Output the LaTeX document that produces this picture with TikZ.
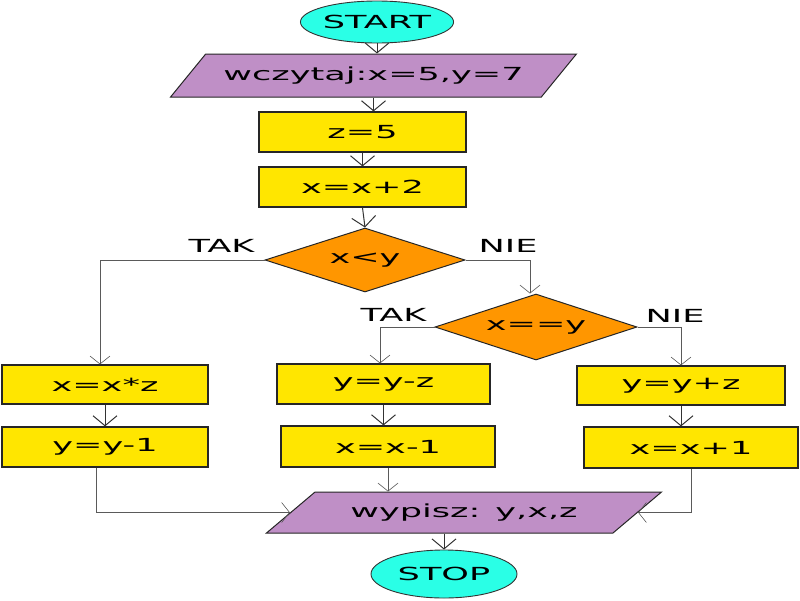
\documentclass[tikz,border=0pt]{standalone}
\usepackage{fontspec}
\setmainfont[FakeStretch=1.95]{DejaVu Sans}
\usepackage{tikz}
\usetikzlibrary{shapes.geometric, arrows.meta, positioning}
\definecolor{termcyan}{RGB}{42,255,230}
\definecolor{iopurple}{RGB}{191,143,198}
\definecolor{opyellow}{RGB}{255,230,0}
\definecolor{decorange}{RGB}{255,150,0}
\definecolor{linkgray}{RGB}{90,90,90}

\begin{document}
\begin{tikzpicture}[x=1pt, y=-1pt,
    every node/.style={font=\fontsize{18}{21}\selectfont, inner sep=0pt},
    term/.style={ellipse, draw=black!80, line width=0.9pt, fill=termcyan},
    iobox/.style={trapezium, trapezium stretches=true, draw=black!85, line width=1pt, fill=iopurple},
    opbox/.style={rectangle, draw=black!85, line width=1.2pt, fill=opyellow},
    decision/.style={diamond, aspect=3.1, draw=black!85, line width=1pt, fill=decorange},
    flow/.style={-{Straight Barb[length=10pt,width=24pt]}, line width=1pt, black!80},
    link/.style={-{Straight Barb[length=8pt,width=20pt]}, line width=0.6pt, linkgray}]
    \useasboundingbox (0,0) rectangle (800,600);

    % Start and input
    \node[term, minimum width=144pt, minimum height=42pt] (start) at (377,22) {START};
    \node[iobox, trapezium left angle=29, trapezium right angle=151,
          minimum width=407pt, minimum height=43pt] (read) at (373.5,75.5) {wczytaj:x=5,y=7};
    \node[opbox, minimum width=207pt, minimum height=40pt] (zset) at (362.5,132) {z=5};
    \node[opbox, minimum width=207pt, minimum height=40pt] (xadd) at (362.5,187) {x=x+2};

    % Decisions
    \node[decision, minimum width=200pt, minimum height=64pt] (less) at (365,260) {x<y};
    \node[decision, minimum width=202pt, minimum height=66pt] (equal) at (536,327) {x==y};
    \node[above left=7pt and 10pt of less.west] (takless) {TAK};
    \node[above right=7pt and 13pt of less.east] (nieless) {NIE};
    \node[above left=5pt and 8pt of equal.west] (takequal) {TAK};
    \node[above right=4pt and 8pt of equal.east] (nieequal) {NIE};

    % Branches
    \node[opbox, minimum width=206pt, minimum height=39pt] (xmul) at (105,384.5) {x=x*z};
    \node[opbox, minimum width=206pt, minimum height=40pt] (ydec) at (105,447) {y=y-1};
    \node[opbox, minimum width=213pt, minimum height=40pt] (ysub) at (383.5,384) {y=y-z};
    \node[opbox, minimum width=214pt, minimum height=41pt] (xdec) at (388,446.5) {x=x-1};
    \node[opbox, minimum width=208pt, minimum height=39pt] (yadd) at (681,385.5) {y=y+z};
    \node[opbox, minimum width=214pt, minimum height=41pt] (xinc) at (691,447.5) {x=x+1};

    % Output and stop
    \node[iobox, trapezium left angle=25.2, trapezium right angle=154.8,
          minimum width=396pt, minimum height=41pt] (print) at (464,512.5) {wypisz: y,x,z};
    \node[term, minimum width=146pt, minimum height=48pt] (stop) at (444,574) {STOP};

    % Connectors
    \draw[flow] (start.south) -- (start.south |- read.north);
    \draw[flow] (read.south) -- (read.south |- zset.north);
    \draw[flow] (zset) -- (xadd);
    \draw[flow] (xadd.south) -- (less.north);
    \draw[link] (less.west) -| ([xshift=-5pt]xmul.north);
    \draw[link] (less.east) -| ([xshift=-6pt]equal.north);
    \draw[link] (equal.west) -| ([xshift=-3.5pt]ysub.north);
    \draw[link] (equal.east) -| (yadd.north);
    \draw[flow] (xmul) -- (ydec);
    \draw[flow] (ysub.south) -- (ysub.south |- xdec.north);
    \draw[flow] (yadd.south) -- (yadd.south |- xinc.north);
    \draw[link] ([xshift=-9pt]ydec.south) |- (print.west);
    \draw[link] (xdec.south) -- (xdec.south |- print.north);
    \draw[link] (xinc.south) |- (print.east);
    \draw[flow] (stop.north |- print.south) -- (stop.north);
\end{tikzpicture}
\end{document}
